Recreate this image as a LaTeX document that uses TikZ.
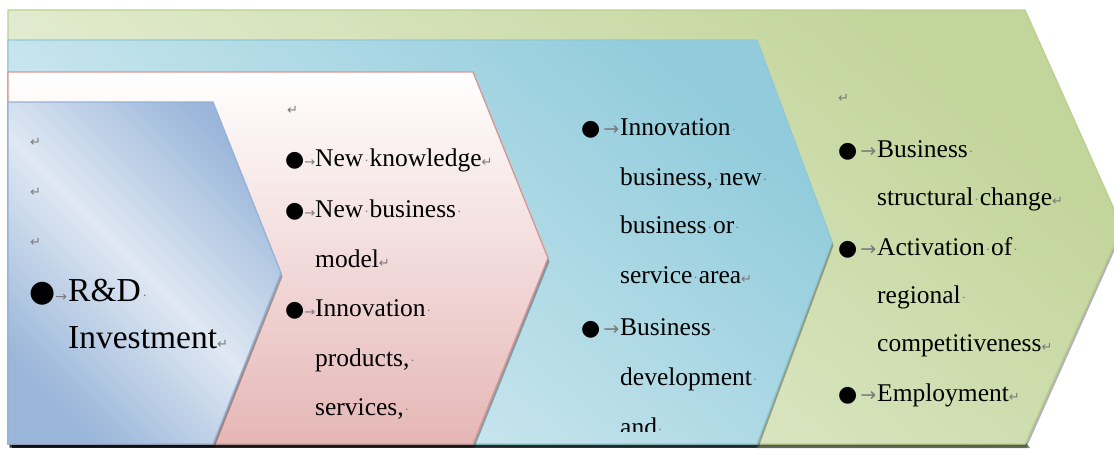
\documentclass[tikz,border=0pt]{standalone}
\usepackage{fontspec}
\setmainfont{Liberation Serif}
\newfontfamily\dv{DejaVu Sans}
\definecolor{mk}{HTML}{7A7A7A}
\definecolor{gA}{HTML}{C2D59A}
\definecolor{gB}{HTML}{EBF1DE}
\definecolor{gL}{HTML}{BBD08F}
\definecolor{bA}{HTML}{92CCDC}
\definecolor{bB}{HTML}{DDEFF4}
\definecolor{bL}{HTML}{8FC9D9}
\definecolor{rA}{HTML}{FFFFFF}
\definecolor{rB}{HTML}{E5B7B6}
\definecolor{rL}{HTML}{D99694}
\definecolor{iA}{HTML}{9AB6D9}
\definecolor{iB}{HTML}{DFE8F3}
\definecolor{iL}{HTML}{95B3D7}
\newcommand\bodyfont{\fontsize{25.5}{30}\selectfont}
\newcommand\bigfont{\fontsize{33.5}{40}\selectfont}
\newcommand\sd{\makebox[\fontdimen2\font][c]{\color{mk}\fontsize{14}{14}\selectfont\raisebox{0.3em}{.}}}
\newcommand\ret{{\color{mk}\dv\fontsize{13}{13}\selectfont\char"21B5}}
\newcommand\bt[3]{\makebox[#1][l]{{\dv\fontsize{#2}{#2}\selectfont\char"25CF}\hfill{\color{mk}\dv\fontsize{#3}{#3}\selectfont\char"2192}\hspace{1pt}}}
\def\pathG{(8,10) -- (1025,10) -- (1122,227) -- (1025,444) -- (8,444) -- cycle}
\def\pathB{(8,40) -- (757,40) -- (832,242) -- (757,444) -- (8,444) -- cycle}
\def\pathR{(8,72) -- (473,72) -- (548,258) -- (473,444) -- (8,444) -- cycle}
\def\pathI{(8,102) -- (213,102) -- (281,273) -- (213,444) -- (8,444) -- cycle}
\begin{document}
\begin{tikzpicture}[x=1pt,y=-1pt,
  txt/.style={anchor=base west,inner sep=0pt,font=\bodyfont},
  retn/.style={anchor=west,inner sep=0pt},
  shad/.style={fill=black,opacity=0.3,shift={(1.5,3.5)}},
  edge/.style={line width=1.3pt}]
\useasboundingbox (0,0) rectangle (1114,448);
% bottom shadow strip
\fill[fill={rgb,255:red,126;green,139;blue,106}] (757,443) -- (1026,443) -- (1030,448) -- (757,448) -- cycle;
\fill[fill={rgb,255:red,61;green,90;blue,98}] (473,443) rectangle (757,448);
\fill[fill={rgb,255:red,75;green,71;blue,80}] (213,443) rectangle (473,448);
\fill[fill={rgb,255:red,62;green,74;blue,92}] (12,443) rectangle (213,448);
% green
\fill[shad] \pathG;
\shade[top color=gA,bottom color=gB,shading angle=-40] \pathG;
\draw[edge,draw=gL] \pathG;
% blue
\fill[shad] \pathB;
\shade[top color=bA,bottom color=bB,shading angle=-40] \pathB;
\draw[edge,draw=bL] \pathB;
% red
\fill[shad] \pathR;
\shade[top color=rA,bottom color=rB] \pathR;
\draw[edge,draw=rL] \pathR;
% inner
\fill[shad] \pathI;
\shade[top color=iA,bottom color=iA,middle color=iB,shading angle=-45] \pathI;
\draw[edge,draw=iL] \pathI;
% inner text
\node[retn] (i1) at (30,142) {\ret};
\node[retn] (i2) at (30,192) {\ret};
\node[retn] (i3) at (30,242) {\ret};
\node[txt,font=\bigfont] (rd) at (29,301) {\bt{39pt}{30}{14}R\&D\sd};
\node[txt,font=\bigfont] (inv) at (68,348) {Investment\ret};
% red text
\node[retn] (r0) at (287,110) {\ret};
\node[txt] (r1) at (285,166) {\bt{30pt}{22}{13}New\sd knowledge\ret};
\node[txt] (r2) at (285,217) {\bt{30pt}{22}{13}New\sd business\sd};
\node[txt] (r3) at (315,267) {model\ret};
\node[txt] (r4) at (285,316) {\bt{30pt}{22}{13}Innovation\sd};
\node[txt] (r5) at (315,366) {products,\sd};
\node[txt] (r6) at (315,415) {services,\sd};
% blue text
\node[txt] (b1) at (581,135) {\bt{39pt}{22}{19}Innovation\sd};
\node[txt] (b2) at (620,185) {business,\sd new\sd};
\node[txt] (b3) at (620,233) {business\sd or\sd};
\node[txt] (b4) at (620,283) {service\sd area\ret};
\node[txt] (b5) at (581,335) {\bt{39pt}{22}{19}Business\sd};
\node[txt] (b6) at (620,385) {development\sd};
\begin{scope}
\clip (560,395) rectangle (760,431);
\node[txt] (b7) at (620,435) {and\sd};
\end{scope}
% green text
\node[retn] (g0) at (838,98) {\ret};
\node[txt] (g1) at (838,157) {\bt{39pt}{22}{19}Business\sd};
\node[txt] (g2) at (877,205) {structural\sd change\ret};
\node[txt] (g3) at (838,255) {\bt{39pt}{22}{19}Activation\sd of\sd};
\node[txt] (g4) at (877,303) {regional\sd};
\node[txt] (g5) at (877,351) {competitiveness\ret};
\node[txt] (g6) at (838,401) {\bt{39pt}{22}{19}Employment\ret};
\end{tikzpicture}
\end{document}
